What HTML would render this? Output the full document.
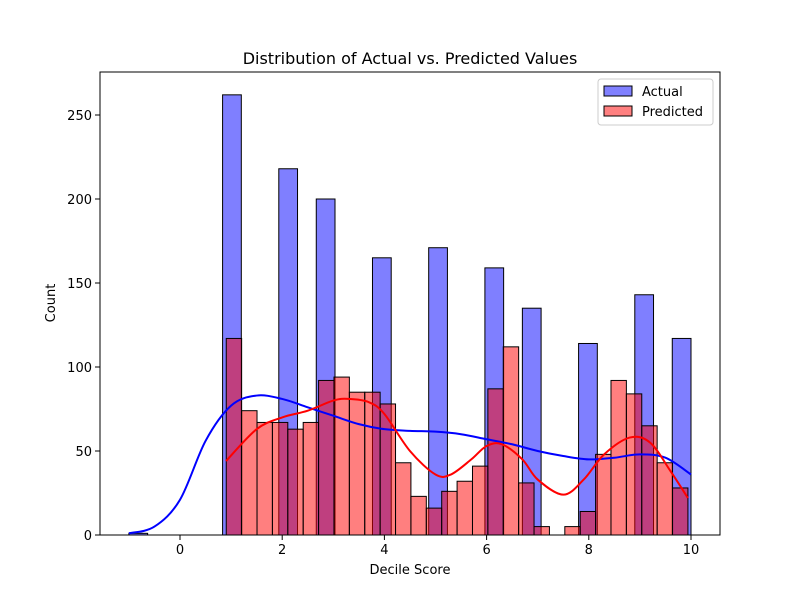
<!DOCTYPE html>
<html><head><meta charset="utf-8"><style>
body{margin:0;background:#fff;}
svg text{font-family:"DejaVu Sans","Liberation Sans",sans-serif;}
</style></head><body>
<svg id="chart" width="800" height="600" xmlns="http://www.w3.org/2000/svg">
<rect width="800" height="600" fill="#fff"/>
<text x="410" y="64" font-size="16" text-anchor="middle">Distribution of Actual vs. Predicted Values</text>
<g id="plot"></g>
<rect x="100" y="72" width="620" height="463" fill="none" stroke="#000" stroke-width="1"/>
<text x="410" y="574" font-size="13" text-anchor="middle">Decile Score</text>
<text x="55" y="303" font-size="13" text-anchor="middle" transform="rotate(-90 55 303)">Count</text>
<g>
<rect x="598" y="79" width="115" height="46" fill="#fff" fill-opacity="0.8" stroke="#ccc" rx="3"/>
<rect x="604" y="86" width="28" height="10" fill="#8080ff" stroke="#000"/>
<text x="642" y="96" font-size="13">Actual</text>
<rect x="604" y="106" width="28" height="10" fill="#ff8080" stroke="#000"/>
<text x="642" y="116" font-size="13">Predicted</text>
</g>
</svg>
<script>
const actualCenters=[-1,1,2,3,4,5,6,7,8,9,10];
const actualCounts=[1,262,218,200,165,171,159,135,114,143,117];
const predCounts=[117,74,67,67,63,67,92,94,85,85,78,43,23,16,26,32,41,87,112,31,5,0,5,14,48,92,84,65,43,28];
const blueKdeX=[-1,-0.5,0,0.5,1,1.5,2,2.5,3,3.5,4,4.5,5,5.5,6,6.5,7,7.5,8,8.5,9,9.5,10];
const blueKdeY=[1,5,21,56,77,83,81,76,71,66,63,62,61.5,60,57,54,50,47,45,46,48,46,36];
const redKdeX=[0.9,1.5,2,2.5,3,3.3,3.7,4,4.5,5,5.3,5.7,6,6.3,6.7,7,7.5,7.9,8.3,8.8,9.2,9.6,9.94];
const redKdeY=[44,63,70,74,80,81,79,72,50,36,36,45,53,54,45,33,24,33,48,58,55,38,22];
const xTicks=[0,2,4,6,8,10];
const yTicks=[0,50,100,150,200,250];
const actualMin=-1,actualBinW=11/30;
const predMin=0.905,predBinW=(9.94-0.905)/30;

const X=v=>180+v*51.1;
const Y=v=>535-v*1.68;
const NS="http://www.w3.org/2000/svg";
const svg=document.getElementById('chart');
const plot=document.getElementById('plot');
function mk(t,a,p){const e=document.createElementNS(NS,t);for(const k in a)e.setAttribute(k,a[k]);(p||plot).appendChild(e);return e;}

actualCenters.forEach((c,i)=>{
  const k=Math.floor((c-actualMin)/actualBinW+1e-9);const k2=Math.min(k,29);
  const x0=X(actualMin+k2*actualBinW),x1=X(actualMin+(k2+1)*actualBinW);
  const r=mk('rect',{x:x0,y:Y(actualCounts[i]),width:x1-x0,height:Y(0)-Y(actualCounts[i]),fill:'#0000ff','fill-opacity':0.5,stroke:'#000','stroke-width':1});
  
  
});
predCounts.forEach((v,i)=>{
  if(v<=0)return;
  const x0=X(predMin+i*predBinW),x1=X(predMin+(i+1)*predBinW);
  const r=mk('rect',{x:x0,y:Y(v),width:x1-x0,height:Y(0)-Y(v),fill:'#ff0000','fill-opacity':0.5,stroke:'#000','stroke-width':1});
  
  
});
function smooth(xs,ys){
  const p=xs.map((x,i)=>[X(x),Y(ys[i])]);
  let d='M'+p[0][0]+','+p[0][1];
  for(let i=0;i<p.length-1;i++){
    const p0=p[i-1]||p[i],p1=p[i],p2=p[i+1],p3=p[i+2]||p2;
    const c1=[p1[0]+(p2[0]-p0[0])/6,p1[1]+(p2[1]-p0[1])/6];
    const c2=[p2[0]-(p3[0]-p1[0])/6,p2[1]-(p3[1]-p1[1])/6];
    d+=` C${c1[0]},${c1[1]} ${c2[0]},${c2[1]} ${p2[0]},${p2[1]}`;
  }
  return d;
}
const bl=mk('path',{d:smooth(blueKdeX,blueKdeY),fill:'none',stroke:'#0000ff','stroke-width':2});


const rl=mk('path',{d:smooth(redKdeX,redKdeY),fill:'none',stroke:'#ff0000','stroke-width':2});



xTicks.forEach(t=>{
  const l=mk('line',{x1:X(t),x2:X(t),y1:535,y2:540,stroke:'#000'},svg);
  
  
  const tx=mk('text',{x:X(t),y:554,'font-size':13,'text-anchor':'middle'},svg);tx.textContent=t;
  
  
});
yTicks.forEach(t=>{
  const l=mk('line',{x1:95,x2:100,y1:Y(t),y2:Y(t),stroke:'#000'},svg);
  
  
  const tx=mk('text',{x:92,y:Y(t)+5,'font-size':13,'text-anchor':'end'},svg);tx.textContent=t;
  
  
});
</script>
</body></html>
